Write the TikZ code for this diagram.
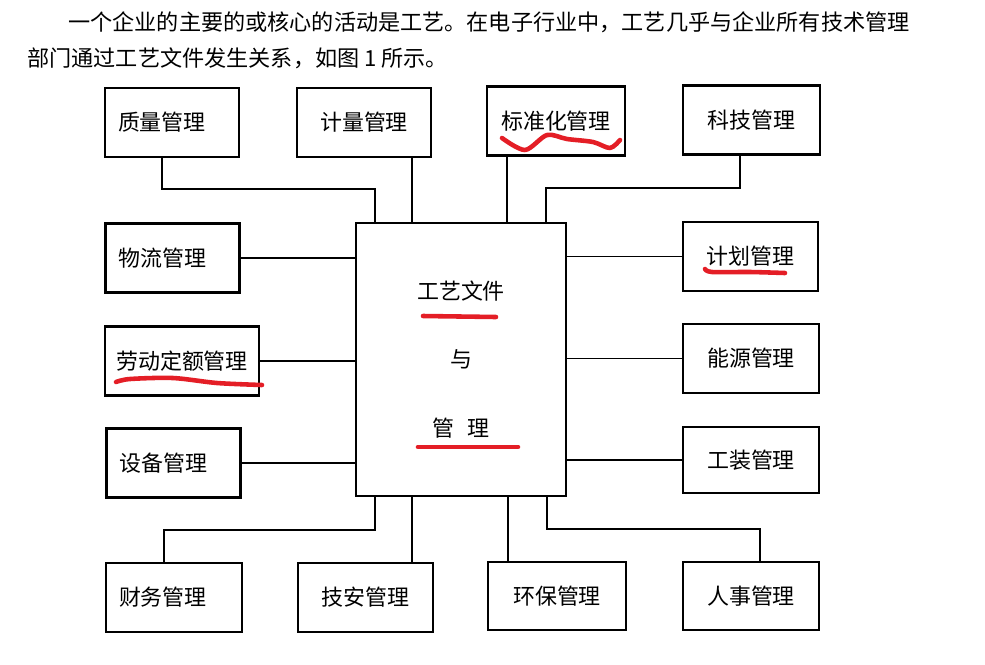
\documentclass[tikz,border=0pt]{standalone}
\usepackage{fontspec}
\setmainfont{Noto Sans CJK SC}
\definecolor{markred}{RGB}{228,30,38}
\begin{document}
\begin{tikzpicture}[x=0.02cm,y=-0.02cm,
  unit/.style={draw, line width=1.2pt, minimum width=2.68cm, minimum height=1.38cm, inner sep=0pt, font=\fontsize{12.5}{15}\selectfont},
  leftunit/.style={unit, align=left, text width=2.16cm, inner xsep=0.26cm},
  link/.style={line width=1pt},
  redmark/.style={markred, line width=2.6pt, line cap=round, line join=round}]
\useasboundingbox (0,0) rectangle (985,664);
% text above the figure
\node[anchor=west, inner sep=0pt, font=\fontsize{12.6}{15}\selectfont] (line1) at (68,22) {一个企业的主要的或核心的活动是工艺。在电子行业中，工艺几乎与企业所有技术管理};
\node[anchor=west, inner sep=0pt, font=\fontsize{12.6}{15}\selectfont] (line2) at (27,58) {部门通过工艺文件发生关系，如图 1 所示。};
% centre
\node[draw, line width=1.2pt, minimum width=4.2cm, minimum height=5.46cm, inner sep=0pt, align=center, font=\fontsize{12.5}{39}\selectfont] (hub) at (461,359.5) {工艺文件\\与\\管\hspace{0.26cm}理};
% top row
\node[leftunit] (zl) at (172,122.5) {质量管理};
\node[unit] (jl) at (364,122.5) {计量管理};
\node[unit, minimum width=2.76cm] (bzh) at (556,121) {标准化管理};
\node[unit, minimum width=2.74cm] (kj) at (751.5,120) {科技管理};
% left column
\node[leftunit] (wl) at (172.5,258) {物流管理};
\node[unit, minimum width=3.08cm] (ld) at (182,361) {劳动定额管理};
\node[leftunit] (sb) at (173.5,463) {设备管理};
% right column
\node[unit, minimum width=2.7cm] (jh) at (750.5,256.5) {计划管理};
\node[unit, minimum width=2.72cm] (ny) at (751,358.5) {能源管理};
\node[unit, minimum width=2.72cm, minimum height=1.32cm] (gz) at (751,460) {工装管理};
% bottom row
\node[leftunit, text width=2.2cm] (cw) at (174,597.5) {财务管理};
\node[unit, minimum width=2.7cm] (ja) at (365.5,597.5) {技安管理};
\node[unit, minimum width=2.76cm, minimum height=1.36cm] (hb) at (557,596) {环保管理};
\node[unit, minimum width=2.72cm, minimum height=1.36cm] (rs) at (751,596) {人事管理};
% connectors
\draw[link] (zl.south -| 162,0) -- (162,189) -| (hub.north -| 375,0);
\draw[link] (jl.south -| 412,0) -- (hub.north -| 412,0);
\draw[link] (bzh.south -| 507,0) -- (hub.north -| 507,0);
\draw[link] (kj.south -| 740,0) -- (740,188) -| (hub.north -| 546,0);
\draw[link] (wl.east) -- (wl.east -| hub.west);
\draw[link] (ld.east) -- (ld.east -| hub.west);
\draw[link] (sb.east) -- (sb.east -| hub.west);
\draw[link] (jh.west) -- (jh.west -| hub.east);
\draw[link] (ny.west) -- (ny.west -| hub.east);
\draw[link] (gz.west) -- (gz.west -| hub.east);
\draw[link] (cw.north -| 164,0) -- (164,530) -| (hub.south -| 375,0);
\draw[link] (ja.north -| 412,0) -- (hub.south -| 412,0);
\draw[link] (hb.north -| 508,0) -- (hub.south -| 508,0);
\draw[link] (rs.north -| 760,0) -- (760,529) -| (hub.south -| 547,0);
% red pen marks
\draw[redmark] plot[smooth] coordinates {(502,138) (525,150) (547,135) (567,139) (593,142) (610,148) (620,140)};
\draw[redmark] plot[smooth] coordinates {(705,269) (712,272) (750,272) (785,273)};
\draw[redmark] plot[smooth] coordinates {(116,382) (130,379) (173,378) (217,383) (262,385)};
\draw[redmark] (423,316) -- (496,317);
\draw[redmark] (418,447) -- (518,447);
\end{tikzpicture}
\end{document}
